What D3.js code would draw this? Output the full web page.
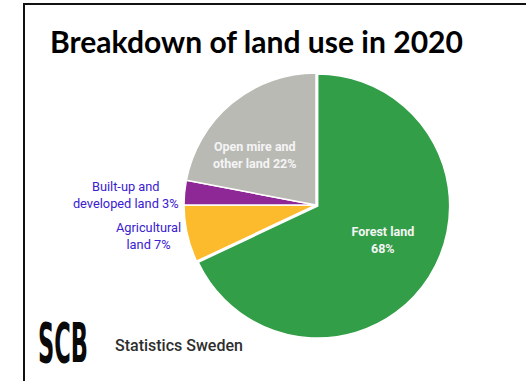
<!DOCTYPE html>
<html>
<head>
<meta charset="utf-8">
<script src="https://cdn.jsdelivr.net/npm/d3@7"></script>
<style>
  html, body { margin: 0; padding: 0; background: #fff; }
  svg { display: block; }
</style>
</head>
<body>
<svg id="chart" width="526" height="381"></svg>
<script>
// Land use in Sweden, 2020 (share of total land area, %)
const categories = ["Forest land", "Agricultural land", "Built-up and developed land", "Open mire and other land"];
const values = [68, 7, 3, 22];
const labelLines = [
  ["Forest land", "68%"],
  ["Agricultural", "land 7%"],
  ["Built-up and", "developed land 3%"],
  ["Open mire and", "other land 22%"]
];
const colors = ["#329e48", "#fcbb2d", "#8d2896", "#babab5"];
const title = "Breakdown of land use in 2020";
const source = "Statistics Sweden";

const W = 526, H = 381;
const svg = d3.select("#chart");

// frame: top and left rules
svg.append("line").attr("x1", 24).attr("y1", 4).attr("x2", W).attr("y2", 4)
  .attr("stroke", "#111").attr("stroke-width", 2);
svg.append("line").attr("x1", 24).attr("y1", 3).attr("x2", 24).attr("y2", H)
  .attr("stroke", "#111").attr("stroke-width", 2);

// title
svg.append("text")
  .attr("x", 50).attr("y", 53)
  .attr("font-family", "Lato, 'Open Sans', sans-serif")
  .attr("font-weight", "bold")
  .attr("font-size", 29.5)
  .attr("fill", "#000")
  .attr("textLength", 413)
  .attr("lengthAdjust", "spacingAndGlyphs")
  .text(title);

// pie
const cx = 316, cy = 205, R = 132;
const data = categories.map((c, i) => ({ name: c, value: values[i], lines: labelLines[i], color: colors[i] }));
const pie = d3.pie().sort(null).value(d => d.value);
const arcs = pie(data);
const arc = d3.arc().innerRadius(0).outerRadius(R);

const g = svg.append("g").attr("transform", `translate(${cx},${cy})`);

// forest slice pulled out slightly
const explode = { "Forest land": 2 };
g.selectAll("path.slice")
  .data(arcs)
  .join("path")
  .attr("class", "slice")
  .attr("d", arc)
  .attr("fill", d => d.data.color)
  .attr("stroke", "#fff")
  .attr("stroke-width", 1.5)
  .attr("transform", d => {
    const e = explode[d.data.name] || 0;
    const a = (d.startAngle + d.endAngle) / 2;
    return `translate(${e * Math.sin(a)},${-e * Math.cos(a)})`;
  });

// labels
const fsInner = 12.5, fsOuter = 12.8, lineH = 17;
const insideLayout = {
  "Forest land": { r: 0.57, turn: -5 },
  "Open mire and other land": { r: 0.6, turn: -11 }
};

function drawLines(sel, lines, fs) {
  lines.forEach((t, i) => {
    sel.append("tspan")
      .attr("x", 0)
      .attr("y", (i - (lines.length - 1) / 2) * lineH + 0.35 * fs)
      .text(t);
  });
}

arcs.forEach(d => {
  const mid = (d.startAngle + d.endAngle) / 2;
  const inside = insideLayout[d.data.name];
  if (inside) {
    const a = mid + inside.turn * Math.PI / 180;
    const r = inside.r * R;
    const t = g.append("text")
      .attr("transform", `translate(${r * Math.sin(a)},${-r * Math.cos(a)})`)
      .attr("text-anchor", "middle")
      .attr("font-family", "Roboto, sans-serif")
      .attr("font-weight", "bold")
      .attr("font-size", fsInner)
      .attr("fill", "#f4f4f4");
    drawLines(t, d.data.lines, fsInner);
  } else {
    const ex = R * Math.sin(mid), ey = -R * Math.cos(mid);
    const t = g.append("text")
      .attr("text-anchor", "middle")
      .attr("font-family", "Roboto, sans-serif")
      .attr("font-size", fsOuter)
      .attr("fill", "#3a20d0");
    drawLines(t, d.data.lines, fsOuter);
    const wMax = d3.max(t.selectAll("tspan").nodes(), n => n.getComputedTextLength());
    t.attr("transform", `translate(${ex - 6 - wMax / 2},${ey + 2})`);
  }
});

// logo: condensed by horizontal scaling to a fixed width
const logo = svg.append("text")
  .attr("font-family", "'DejaVu Sans Condensed', 'DejaVu Sans', sans-serif")
  .attr("font-weight", "bold")
  .attr("font-size", 55)
  .attr("fill", "#0a0a0a")
  .text("SCB");
const logoW = logo.node().getComputedTextLength();
logo.attr("transform", `translate(38,362) scale(${50 / logoW},1)`);

svg.append("text")
  .attr("x", 115).attr("y", 351)
  .attr("font-family", "Roboto, sans-serif")
  .attr("font-weight", 500)
  .attr("font-size", 16)
  .attr("fill", "#2e2e2e")
  .text(source);
</script>
</body>
</html>
